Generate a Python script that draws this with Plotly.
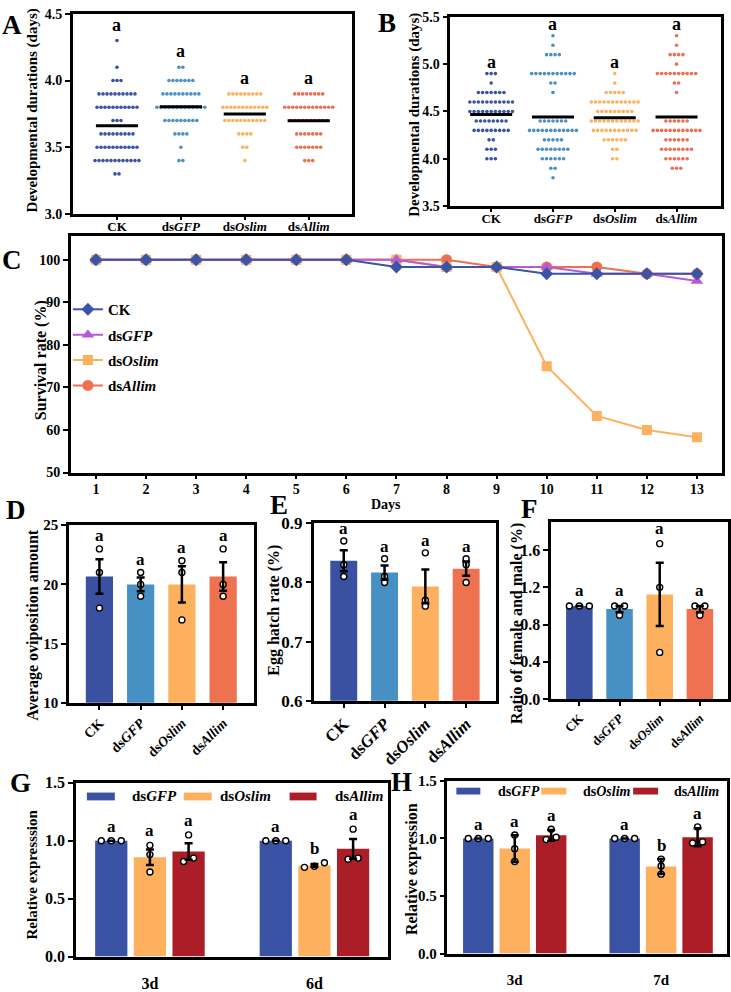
import numpy as np
import plotly.graph_objects as go

W, H = 731, 992
FONT = "Liberation Serif"

group_labels = ["CK", "ds<i>GFP</i>", "ds<i>Oslim</i>", "ds<i>Allim</i>"]

# ---------------- Panel A: developmental durations (days) ----------------
a_ck_days = [4.3, 4.1, 4.0, 3.9, 3.8, 3.7, 3.6, 3.5, 3.4, 3.3]
a_ck_counts = [1, 1, 3, 10, 11, 3, 9, 11, 12, 2]
a_gfp_days = [4.1, 4.0, 3.9, 3.8, 3.7, 3.6, 3.5, 3.4]
a_gfp_counts = [2, 7, 10, 13, 9, 4, 1, 2]
a_oslim_days = [3.9, 3.8, 3.7, 3.6, 3.5, 3.4]
a_oslim_counts = [9, 12, 11, 4, 2, 1]
a_allim_days = [3.9, 3.8, 3.7, 3.6, 3.5, 3.4]
a_allim_counts = [8, 13, 10, 7, 7, 3]
a_letters = ["a", "a", "a", "a"]

# ---------------- Panel B: developmental durations (days) ----------------
b_ck_days = [4.9, 4.8, 4.7, 4.6, 4.5, 4.4, 4.3, 4.2, 4.1, 4.0]
b_ck_counts = [3, 1, 7, 11, 11, 8, 9, 2, 3, 3]
b_gfp_days = [5.3, 5.2, 5.1, 4.9, 4.8, 4.7, 4.4, 4.3, 4.2, 4.1, 4.0, 3.9, 3.8]
b_gfp_counts = [1, 1, 4, 11, 2, 1, 7, 12, 5, 8, 6, 2, 1]
b_oslim_days = [4.9, 4.8, 4.7, 4.6, 4.5, 4.4, 4.3, 4.2, 4.1, 4.0]
b_oslim_counts = [1, 1, 5, 12, 9, 12, 11, 6, 2, 2]
b_allim_days = [5.3, 5.2, 5.1, 5.0, 4.9, 4.8, 4.7, 4.4, 4.3, 4.2, 4.1, 4.0, 3.9]
b_allim_counts = [1, 1, 4, 1, 10, 2, 1, 6, 12, 6, 8, 6, 3]
b_letters = ["a", "a", "a", "a"]

# ---------------- Panel C: survival rate (%) ----------------
c_days = [1, 2, 3, 4, 5, 6, 7, 8, 9, 10, 11, 12, 13]
c_ck = [100, 100, 100, 100, 100, 100, 98.3, 98.3, 98.3, 96.7, 96.7, 96.7, 96.7]
c_gfp = [100, 100, 100, 100, 100, 100, 100, 98.3, 98.3, 98.3, 96.7, 96.7, 95.0]
c_oslim = [100, 100, 100, 100, 100, 100, 100, 98.3, 98.3, 75.0, 63.3, 60.0, 58.3]
c_allim = [100, 100, 100, 100, 100, 100, 100, 100, 98.3, 98.3, 98.3, 96.7, 96.7]

# ---------------- Panel D: average oviposition amount ----------------
d_ck = [23, 21, 18]
d_gfp = [21, 20, 19]
d_oslim = [22, 21, 17]
d_allim = [23, 20, 19]
d_letters = ["a", "a", "a", "a"]

# ---------------- Panel E: egg hatch rate ----------------
e_ck = [0.87, 0.83, 0.81]
e_gfp = [0.84, 0.81, 0.80]
e_oslim = [0.85, 0.77, 0.76]
e_allim = [0.84, 0.83, 0.80]
e_letters = ["a", "a", "a", "a"]

# ---------------- Panel F: female / male ratio ----------------
f_ck = [1.0, 1.0, 1.0]
f_gfp = [1.0, 1.0, 0.9]
f_oslim = [1.67, 1.2, 0.5]
f_allim = [1.0, 1.0, 0.9]
f_letters = ["a", "a", "a", "a"]

# ---------------- Panel G: relative expression (SE) ----------------
g_times = ["3d", "6d"]
g_series = ["ds<i>GFP</i>", "ds<i>Oslim</i>", "ds<i>Allim</i>"]
g_gfp = [[1.0, 1.0, 1.0], [1.0, 1.0, 1.0]]
g_oslim = [[0.96, 0.88, 0.73], [0.81, 0.78, 0.77]]
g_allim = [[1.05, 0.85, 0.82], [1.10, 0.85, 0.84]]
g_letters = [["a", "a"], ["a", "b"], ["a", "a"]]

# ---------------- Panel H: relative expression (SD) ----------------
h_times = ["3d", "7d"]
h_gfp = [[1.0, 1.0, 1.0], [1.0, 1.0, 1.0]]
h_oslim = [[1.03, 0.91, 0.80], [0.82, 0.76, 0.69]]
h_allim = [[1.08, 1.01, 0.99], [1.10, 0.97, 0.96]]
h_letters = [["a", "a"], ["a", "b"], ["a", "a"]]

# ---------------- styling ----------------
dot_colors = ["#3A52A4", "#4A90C4", "#FDB05E", "#EE6E50"]
bar_colors = ["#3A51A2", "#4790C4", "#FDB05E", "#EE7150"]
gh_colors = ["#3A52A4", "#FDB05E", "#AC1E27"]
c_colors = {"CK": "#3A55A5", "GFP": "#B65AD8", "Oslim": "#FDB05E", "Allim": "#EF6F51"}


def fnt(size, color="black"):
    return dict(family=FONT, size=size, color=color, weight="bold")


def xd(a, b):
    return [a / W, b / W]


def yd(top, bottom):
    return [1 - bottom / H, 1 - top / H]


fig = go.Figure()
layout = dict(width=W, height=H, margin=dict(l=0, r=0, t=0, b=0),
              paper_bgcolor="white", plot_bgcolor="rgba(0,0,0,0)",
              showlegend=True, barmode="overlay")
annotations = []
shapes = []


def axis(n, kind, domain, rng, tickvals, ticktext=None, size=14, ticks="outside",
         ticklen=5, tickcolor="black", tickangle=None, tickformat=None, standoff=None):
    other = "y" if kind == "x" else "x"
    d = dict(domain=domain, range=rng, showline=True, linewidth=2.5, linecolor="black",
             mirror=True, ticks=ticks, ticklen=ticklen, tickwidth=2, tickcolor=tickcolor,
             showgrid=False, zeroline=False, tickfont=fnt(size), fixedrange=True,
             anchor=other + ("" if n == 1 else str(n)), tickmode="array", tickvals=tickvals)
    if ticktext is not None:
        d["ticktext"] = ticktext
    if tickangle is not None:
        d["tickangle"] = tickangle
    if tickformat is not None:
        d["tickformat"] = tickformat
    if standoff is not None:
        d["ticklabelstandoff"] = standoff
    layout[(kind + "axis") + ("" if n == 1 else str(n))] = d


def axref(n):
    s = "" if n == 1 else str(n)
    return "x" + s, "y" + s


def ytitle(text, x, y, size):
    annotations.append(dict(text=text, x=x / W, y=1 - y / H, xref="paper", yref="paper",
                            showarrow=False, textangle=-90, font=fnt(size),
                            xanchor="center", yanchor="middle"))


def paper_text(text, x, y, size, xanchor="center"):
    annotations.append(dict(text=text, x=x / W, y=1 - y / H, xref="paper", yref="paper",
                            showarrow=False, font=fnt(size), xanchor=xanchor, yanchor="middle"))


def letter(n, x, y, text, size, yshift):
    xa, ya = axref(n)
    annotations.append(dict(text=text, x=x, y=y, xref=xa, yref=ya, showarrow=False,
                            font=fnt(size), yanchor="bottom", xanchor="center", yshift=yshift))


# ---------------- dot panels A and B ----------------
def dot_panel(n, days_list, counts_list, dx, half, letters, yshift):
    xa, ya = axref(n)
    for i, (days, counts) in enumerate(zip(days_list, counts_list)):
        xs, ys = [], []
        for v, c in zip(days, counts):
            for j in range(c):
                xs.append(i + (j - (c - 1) / 2) * dx)
                ys.append(v)
        fig.add_trace(go.Scatter(x=xs, y=ys, mode="markers", xaxis=xa, yaxis=ya,
                                 marker=dict(size=3.6, color=dot_colors[i]),
                                 showlegend=False, hoverinfo="skip"))
        mean = np.average(days, weights=counts)
        fig.add_trace(go.Scatter(x=[i - half, i + half], y=[mean, mean], mode="lines",
                                 xaxis=xa, yaxis=ya, line=dict(color="black", width=3),
                                 showlegend=False, hoverinfo="skip"))
        letter(n, i, max(days), letters[i], 18, yshift)


dot_panel(1, [a_ck_days, a_gfp_days, a_oslim_days, a_allim_days],
          [a_ck_counts, a_gfp_counts, a_oslim_counts, a_allim_counts], 0.0625, 0.33, a_letters, 4)
axis(1, "x", xd(73, 352), [-0.69, 3.67], [0, 1, 2, 3], group_labels, size=13, ticklen=3,
     standoff=-4)
axis(1, "y", yd(5, 210), [3.0, 4.5], [3.0, 3.5, 4.0, 4.5], size=14, tickformat=".1f")
ytitle("Developmental durations (days)", 33, 104, 15)

dot_panel(2, [b_ck_days, b_gfp_days, b_oslim_days, b_allim_days],
          [b_ck_counts, b_gfp_counts, b_oslim_counts, b_allim_counts], 0.069, 0.34, b_letters, 0)
axis(2, "x", xd(451, 722), [-0.66, 3.72], [0, 1, 2, 3], group_labels, size=13, ticklen=3,
     standoff=-4)
axis(2, "y", yd(8, 202), [3.5, 5.5], [3.5, 4.0, 4.5, 5.0, 5.5], size=14, tickformat=".1f")
ytitle("Developmental durations (days)", 415, 108, 15)

# ---------------- panel C ----------------
xa, ya = axref(3)
c_specs = [
    ("ds<i>Allim</i>", c_allim, c_colors["Allim"], "circle", 11, "legend4"),
    ("ds<i>Oslim</i>", c_oslim, c_colors["Oslim"], "square", 10, "legend3"),
    ("ds<i>GFP</i>", c_gfp, c_colors["GFP"], "triangle-up", 11, "legend2"),
    ("CK", c_ck, c_colors["CK"], "diamond", 10, "legend"),
]
for name, vals, col, sym, sz, leg in c_specs:
    fig.add_trace(go.Scatter(x=c_days, y=vals, mode="lines+markers", name=name,
                             xaxis=xa, yaxis=ya, legend=leg,
                             line=dict(color=col, width=2),
                             marker=dict(symbol=sym, size=sz, color=col),
                             hoverinfo="skip"))
axis(3, "x", xd(71, 723), [0.5, 13.5], c_days, size=14, ticklen=4, standoff=-2)
axis(3, "y", yd(233, 475), [50, 105.5], [50, 60, 70, 80, 90, 100], size=14)
ytitle("Survival rate (%)", 41, 360, 16)
paper_text("Days", 387, 508, 14)
leg_y = {"legend": 308, "legend2": 334, "legend3": 360, "legend4": 386}
for k, yy in leg_y.items():
    layout[k] = dict(x=68 / W, y=1 - yy / H, xanchor="left", yanchor="middle",
                     bgcolor="rgba(0,0,0,0)", font=fnt(15), itemwidth=30,
                     borderwidth=0, itemclick=False, itemdoubleclick=False)


# ---------------- bar panels D, E, F ----------------
def swarm_offsets(vals, thresh, step):
    vals = np.asarray(vals, float)
    order = np.argsort(vals)
    offs = np.zeros(len(vals))
    clusters = []
    for i in order:
        if clusters and vals[i] - vals[clusters[-1][-1]] <= thresh:
            clusters[-1].append(i)
        else:
            clusters.append([i])
    for cl in clusters:
        k = len(cl)
        for j, i in enumerate(cl):
            offs[i] = (j - (k - 1) / 2) * step
    return offs


def points_and_errors(n, centers, groups, errs, thresh, step, colors, width):
    xa, ya = axref(n)
    means = [float(np.mean(g)) for g in groups]
    fig.add_trace(go.Bar(x=centers, y=means, width=width, xaxis=xa, yaxis=ya,
                         marker=dict(color=colors, line=dict(width=0)),
                         showlegend=False, hoverinfo="skip"))
    px, py = [], []
    for c, g in zip(centers, groups):
        offs = swarm_offsets(g, thresh, step)
        for o, v in zip(offs, g):
            px.append(c + o)
            py.append(v)
    fig.add_trace(go.Scatter(x=px, y=py, mode="markers", xaxis=xa, yaxis=ya,
                             marker=dict(symbol="circle", size=6, color="white",
                                         line=dict(color="black", width=1.4)),
                             showlegend=False, hoverinfo="skip"))
    fig.add_trace(go.Scatter(x=centers, y=means, mode="markers", xaxis=xa, yaxis=ya,
                             marker=dict(size=2, color="rgba(0,0,0,0)"),
                             error_y=dict(type="data", array=errs, color="black",
                                          thickness=2.5, width=4, visible=True),
                             showlegend=False, hoverinfo="skip"))
    return means


def se(g):
    return float(np.std(g, ddof=1) / np.sqrt(len(g)))


def sd(g):
    return float(np.std(g, ddof=1))


def_specs = [
    (4, [d_ck, d_gfp, d_oslim, d_allim], (69, 254), (529, 711), [-0.74, 3.74], [10, 25],
     [10, 15, 20, 25], None, d_letters, 15, 14, 2,
     "Average oviposition amount", 33, 631, 16),
    (5, [e_ck, e_gfp, e_oslim, e_allim], (314, 497), (527, 709), [-0.74, 3.74], [0.6, 0.9],
     [0.6, 0.7, 0.8, 0.9], ".1f", e_letters, 17, 17, 1,
     "Egg hatch rate (%)", 274, 616, 16),
    (6, [f_ck, f_gfp, f_oslim, f_allim], (552, 729), (526, 707), [-0.7, 3.7], [0, 1.9],
     [0, 0.4, 0.8, 1.2, 1.6], ".1f", f_letters, 16, 13, 4,
     "Ratio of female and male (%)", 517, 630, 16),
]
for (n, groups, xpx, ypx, xr, yr, yt, yfmt, letters, ysz, xsz, ysh,
     title, tx, ty, tsz) in def_specs:
    ppu = (xpx[1] - xpx[0]) / (xr[1] - xr[0])
    thresh = 0.03 * (yr[1] - yr[0])
    centers = [0, 1, 2, 3]
    errs = [se(g) for g in groups]
    means = points_and_errors(n, centers, groups, errs, thresh, 10 / ppu, bar_colors, 0.66)
    for i, g in enumerate(groups):
        letter(n, i, max(max(g), means[i] + errs[i]), letters[i], 17, ysh)
    axis(n, "x", xd(*xpx), xr, centers, group_labels, size=xsz, ticklen=4, tickangle=-45)
    axis(n, "y", yd(*ypx), yr, yt, size=ysz, tickformat=yfmt)
    ytitle(title, tx, ty, tsz)


# ---------------- grouped bar panels G, H ----------------
gh_specs = [
    (7, g_times, [g_gfp, g_oslim, g_allim], g_letters, (76, 389), (793, 971), [-0.45, 1.45],
     0.235, 0.196, se, "Relative expresssion", 32, 887, 15, 16, 3),
    (8, h_times, [h_gfp, h_oslim, h_allim], h_letters, (448, 728), (791, 968), [-0.46, 1.45],
     0.249, 0.208, sd, "Relative expression", 412, 881, 16, 15, 2),
]
for (n, times, series, letters, xpx, ypx, xr, spacing, width, errf,
     title, tx, ty, tsz, tksz, ysh) in gh_specs:
    ppu = (xpx[1] - xpx[0]) / (xr[1] - xr[0])
    thresh = 0.03 * 1.5
    for s, groups in enumerate(series):
        centers = [t + (s - 1) * spacing for t in range(len(times))]
        errs = [errf(g) for g in groups]
        means = points_and_errors(n, centers, groups, errs, thresh, 10 / ppu,
                                  [gh_colors[s]] * len(times), width)
        for t, g in enumerate(groups):
            letter(n, centers[t], max(max(g), means[t] + errs[t]), letters[s][t], 17, ysh)
    axis(n, "x", xd(*xpx), xr, list(range(len(times))), times, size=tksz, ticklen=11,
         tickcolor="rgba(0,0,0,0)")
    axis(n, "y", yd(*ypx), [0, 1.5], [0, 0.5, 1.0, 1.5], size=tksz, tickformat=".1f")
    ytitle(title, tx, ty, tsz)

# manual legends for G and H
gh_leg = [
    ([(87, 115), (184, 212), (290, 317)], (803, 811), [130, 218, 333], 15),
    ([(457, 481), (542, 567), (634, 659)], (798, 805), [497, 582, 673], 14),
]
for rects, (yt, yb), txs, tsz in gh_leg:
    for s, ((x0, x1), tx) in enumerate(zip(rects, txs)):
        shapes.append(dict(type="rect", xref="paper", yref="paper", x0=x0 / W, x1=x1 / W,
                           y0=1 - yb / H, y1=1 - yt / H, fillcolor=gh_colors[s],
                           line=dict(width=0)))
        paper_text(g_series[s], tx, (yt + yb) / 2, tsz, xanchor="left")

# panel letters
for txt, x, y in [("A", 12, 16), ("B", 388, 14), ("C", 12, 257), ("D", 16, 513),
                  ("E", 279, 508), ("F", 530, 512), ("G", 21, 793), ("H", 402, 792)]:
    paper_text(txt, x, y, 27)

layout["annotations"] = annotations
layout["shapes"] = shapes
fig.update_layout(**layout)
fig.write_html("out.html")
